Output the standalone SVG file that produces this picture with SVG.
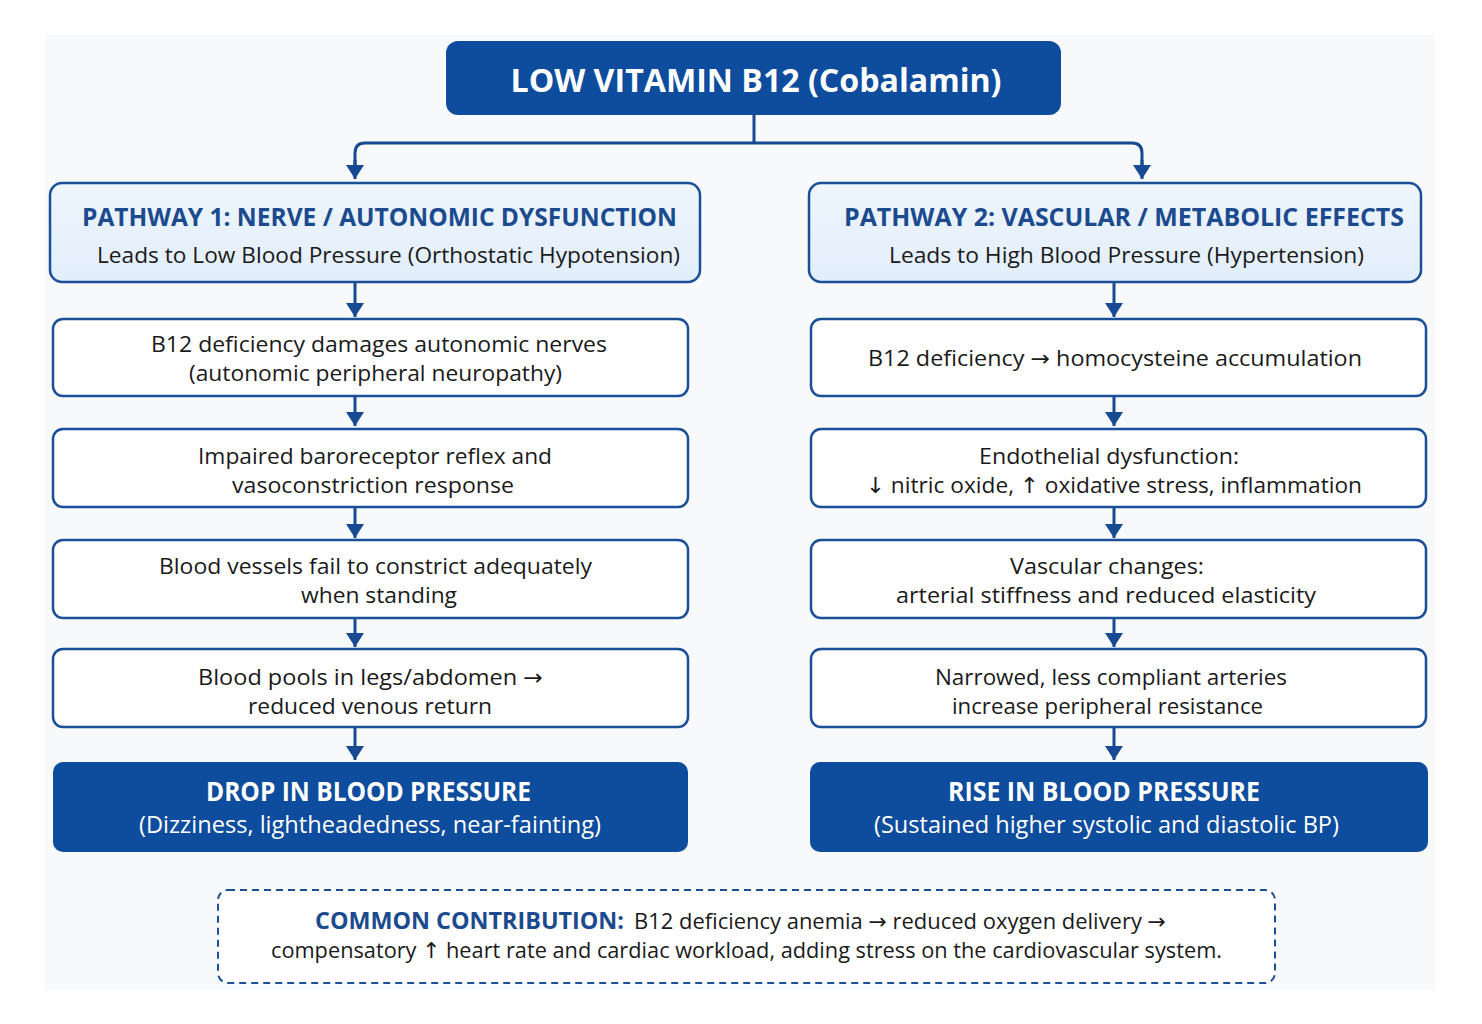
<svg xmlns="http://www.w3.org/2000/svg" width="1482" height="1024" viewBox="0 0 1482 1024">
<defs>
<marker id="ah" viewBox="0 0 14 18" markerWidth="14" markerHeight="18" refX="14" refY="9" orient="auto" markerUnits="userSpaceOnUse">
<path d="M0,0 L14,9 L0,18 Z" fill="#174a92"/>
</marker>
<linearGradient id="pg" x1="0" y1="0" x2="0" y2="1">
<stop offset="0" stop-color="#eef5fd"/>
<stop offset="1" stop-color="#e2eefb"/>
</linearGradient>
<style>
.t{font-family:"Open Sans","Noto Sans","Liberation Sans",sans-serif;text-anchor:middle}
.ar{font-family:"DejaVu Sans",sans-serif}
.box{fill:#ffffff;stroke:#1b4f98;stroke-width:2.5}
.pbox{fill:url(#pg);stroke:#1b4f98;stroke-width:2.5}
.dbox{fill:#0e4c9d}
.body{font-size:22px;fill:#1a1a1a}
.ptitle{font-size:25px;font-weight:700;fill:#1b4a8e}
.dtitle{font-size:26px;font-weight:700;fill:#ffffff}
.dsub{font-size:23px;fill:#ffffff}
.conn{fill:none;stroke:#174a92;stroke-width:3}
</style>
</defs>
<rect x="0" y="0" width="1482" height="1024" fill="#ffffff"/>
<rect x="45" y="35" width="1390" height="955" fill="#f8f9fb"/>

<g id="connectors">
<path class="conn" d="M754,115 V143 M365,143 H1132 M355,166 V153 Q355,143 365,143 M1132,143 Q1142,143 1142,153 V166"/>
<path class="conn" d="M355,160 V179" marker-end="url(#ah)"/>
<path class="conn" d="M1142,160 V179" marker-end="url(#ah)"/>
<path class="conn" d="M355,282 V317" marker-end="url(#ah)"/>
<path class="conn" d="M355,396 V426" marker-end="url(#ah)"/>
<path class="conn" d="M355,507 V538" marker-end="url(#ah)"/>
<path class="conn" d="M355,618 V647" marker-end="url(#ah)"/>
<path class="conn" d="M355,727 V760" marker-end="url(#ah)"/>
<path class="conn" d="M1114,282 V317" marker-end="url(#ah)"/>
<path class="conn" d="M1114,396 V426" marker-end="url(#ah)"/>
<path class="conn" d="M1114,507 V538" marker-end="url(#ah)"/>
<path class="conn" d="M1114,618 V647" marker-end="url(#ah)"/>
<path class="conn" d="M1114,727 V760" marker-end="url(#ah)"/>
</g>

<g id="root">
<rect class="dbox" x="446" y="41" width="615" height="74" rx="12" fill="#0b4593"/>
<text class="t" x="756" y="92" font-size="32" font-weight="700" fill="#ffffff" textLength="491" lengthAdjust="spacingAndGlyphs">LOW VITAMIN B12 (Cobalamin)</text>
</g>

<g id="pathway1">
<rect class="pbox" x="50" y="183" width="650" height="99" rx="12"/>
<text class="t ptitle" x="379.5" y="226" textLength="595" lengthAdjust="spacingAndGlyphs">PATHWAY 1: NERVE / AUTONOMIC DYSFUNCTION</text>
<text class="t body" x="388.5" y="263" textLength="583" lengthAdjust="spacingAndGlyphs">Leads to Low Blood Pressure (Orthostatic Hypotension)</text>
</g>

<g id="pathway2">
<rect class="pbox" x="809" y="183" width="612" height="99" rx="12"/>
<text class="t ptitle" x="1124" y="226" textLength="560" lengthAdjust="spacingAndGlyphs">PATHWAY 2: VASCULAR / METABOLIC EFFECTS</text>
<text class="t body" x="1126.5" y="263" textLength="475" lengthAdjust="spacingAndGlyphs">Leads to High Blood Pressure (Hypertension)</text>
</g>

<g id="l1">
<rect class="box" x="53" y="319" width="635" height="77" rx="10"/>
<text class="t body" x="379" y="352" textLength="456" lengthAdjust="spacingAndGlyphs">B12 deficiency damages autonomic nerves</text>
<text class="t body" x="375.5" y="381" textLength="373" lengthAdjust="spacingAndGlyphs">(autonomic peripheral neuropathy)</text>
</g>
<g id="l2">
<rect class="box" x="53" y="429" width="635" height="78" rx="10"/>
<text class="t body" x="375" y="464" textLength="354" lengthAdjust="spacingAndGlyphs">Impaired baroreceptor reflex and</text>
<text class="t body" x="373" y="493" textLength="282" lengthAdjust="spacingAndGlyphs">vasoconstriction response</text>
</g>
<g id="l3">
<rect class="box" x="53" y="540" width="635" height="78" rx="10"/>
<text class="t body" x="375.5" y="574" textLength="433" lengthAdjust="spacingAndGlyphs">Blood vessels fail to constrict adequately</text>
<text class="t body" x="379" y="603" textLength="156" lengthAdjust="spacingAndGlyphs">when standing</text>
</g>
<g id="l4">
<rect class="box" x="53" y="649" width="635" height="78" rx="10"/>
<text class="t body" x="370.5" y="685" textLength="345" lengthAdjust="spacingAndGlyphs">Blood pools in legs/abdomen <tspan class="ar">→</tspan></text>
<text class="t body" x="370" y="714" textLength="244" lengthAdjust="spacingAndGlyphs">reduced venous return</text>
</g>
<g id="l5">
<rect class="dbox" x="53" y="762" width="635" height="90" rx="10"/>
<text class="t dtitle" x="368.5" y="801" textLength="325" lengthAdjust="spacingAndGlyphs">DROP IN BLOOD PRESSURE</text>
<text class="t dsub" x="370" y="833" textLength="462" lengthAdjust="spacingAndGlyphs">(Dizziness, lightheadedness, near-fainting)</text>
</g>

<g id="r1">
<rect class="box" x="811" y="319" width="615" height="77" rx="10"/>
<text class="t body" x="1115" y="366" textLength="494" lengthAdjust="spacingAndGlyphs">B12 deficiency <tspan class="ar">→</tspan> homocysteine accumulation</text>
</g>
<g id="r2">
<rect class="box" x="811" y="429" width="615" height="78" rx="10"/>
<text class="t body" x="1109" y="464" textLength="260" lengthAdjust="spacingAndGlyphs">Endothelial dysfunction:</text>
<text class="t body" x="1114" y="493" textLength="496" lengthAdjust="spacingAndGlyphs"><tspan class="ar">↓</tspan> nitric oxide, <tspan class="ar">↑</tspan> oxidative stress, inflammation</text>
</g>
<g id="r3">
<rect class="box" x="811" y="540" width="615" height="78" rx="10"/>
<text class="t body" x="1107" y="574" textLength="194" lengthAdjust="spacingAndGlyphs">Vascular changes:</text>
<text class="t body" x="1106" y="603" textLength="420" lengthAdjust="spacingAndGlyphs">arterial stiffness and reduced elasticity</text>
</g>
<g id="r4">
<rect class="box" x="811" y="649" width="615" height="78" rx="10"/>
<text class="t body" x="1111" y="685" textLength="352" lengthAdjust="spacingAndGlyphs">Narrowed, less compliant arteries</text>
<text class="t body" x="1107.5" y="714" textLength="311" lengthAdjust="spacingAndGlyphs">increase peripheral resistance</text>
</g>
<g id="r5">
<rect class="dbox" x="810" y="762" width="618" height="90" rx="10"/>
<text class="t dtitle" x="1104" y="801" textLength="312" lengthAdjust="spacingAndGlyphs">RISE IN BLOOD PRESSURE</text>
<text class="t dsub" x="1106.5" y="833" textLength="465" lengthAdjust="spacingAndGlyphs">(Sustained higher systolic and diastolic BP)</text>
</g>

<g id="common">
<rect x="218" y="890" width="1057" height="93" rx="10" fill="#ffffff" stroke="#1b4f98" stroke-width="2" stroke-dasharray="7,5"/>
<text x="315" y="929" font-family="'Open Sans','Noto Sans','Liberation Sans',sans-serif" font-size="23" font-weight="700" fill="#1b4a8e" textLength="309" lengthAdjust="spacingAndGlyphs">COMMON CONTRIBUTION:</text>
<text x="634" y="929" font-family="'Open Sans','Noto Sans','Liberation Sans',sans-serif" font-size="22" fill="#1a1a1a" textLength="532" lengthAdjust="spacingAndGlyphs">B12 deficiency anemia <tspan class="ar">→</tspan> reduced oxygen delivery <tspan class="ar">→</tspan></text>
<text class="t body" x="746.5" y="958" textLength="951" lengthAdjust="spacingAndGlyphs">compensatory <tspan class="ar">↑</tspan> heart rate and cardiac workload, adding stress on the cardiovascular system.</text>
</g>
</svg>
